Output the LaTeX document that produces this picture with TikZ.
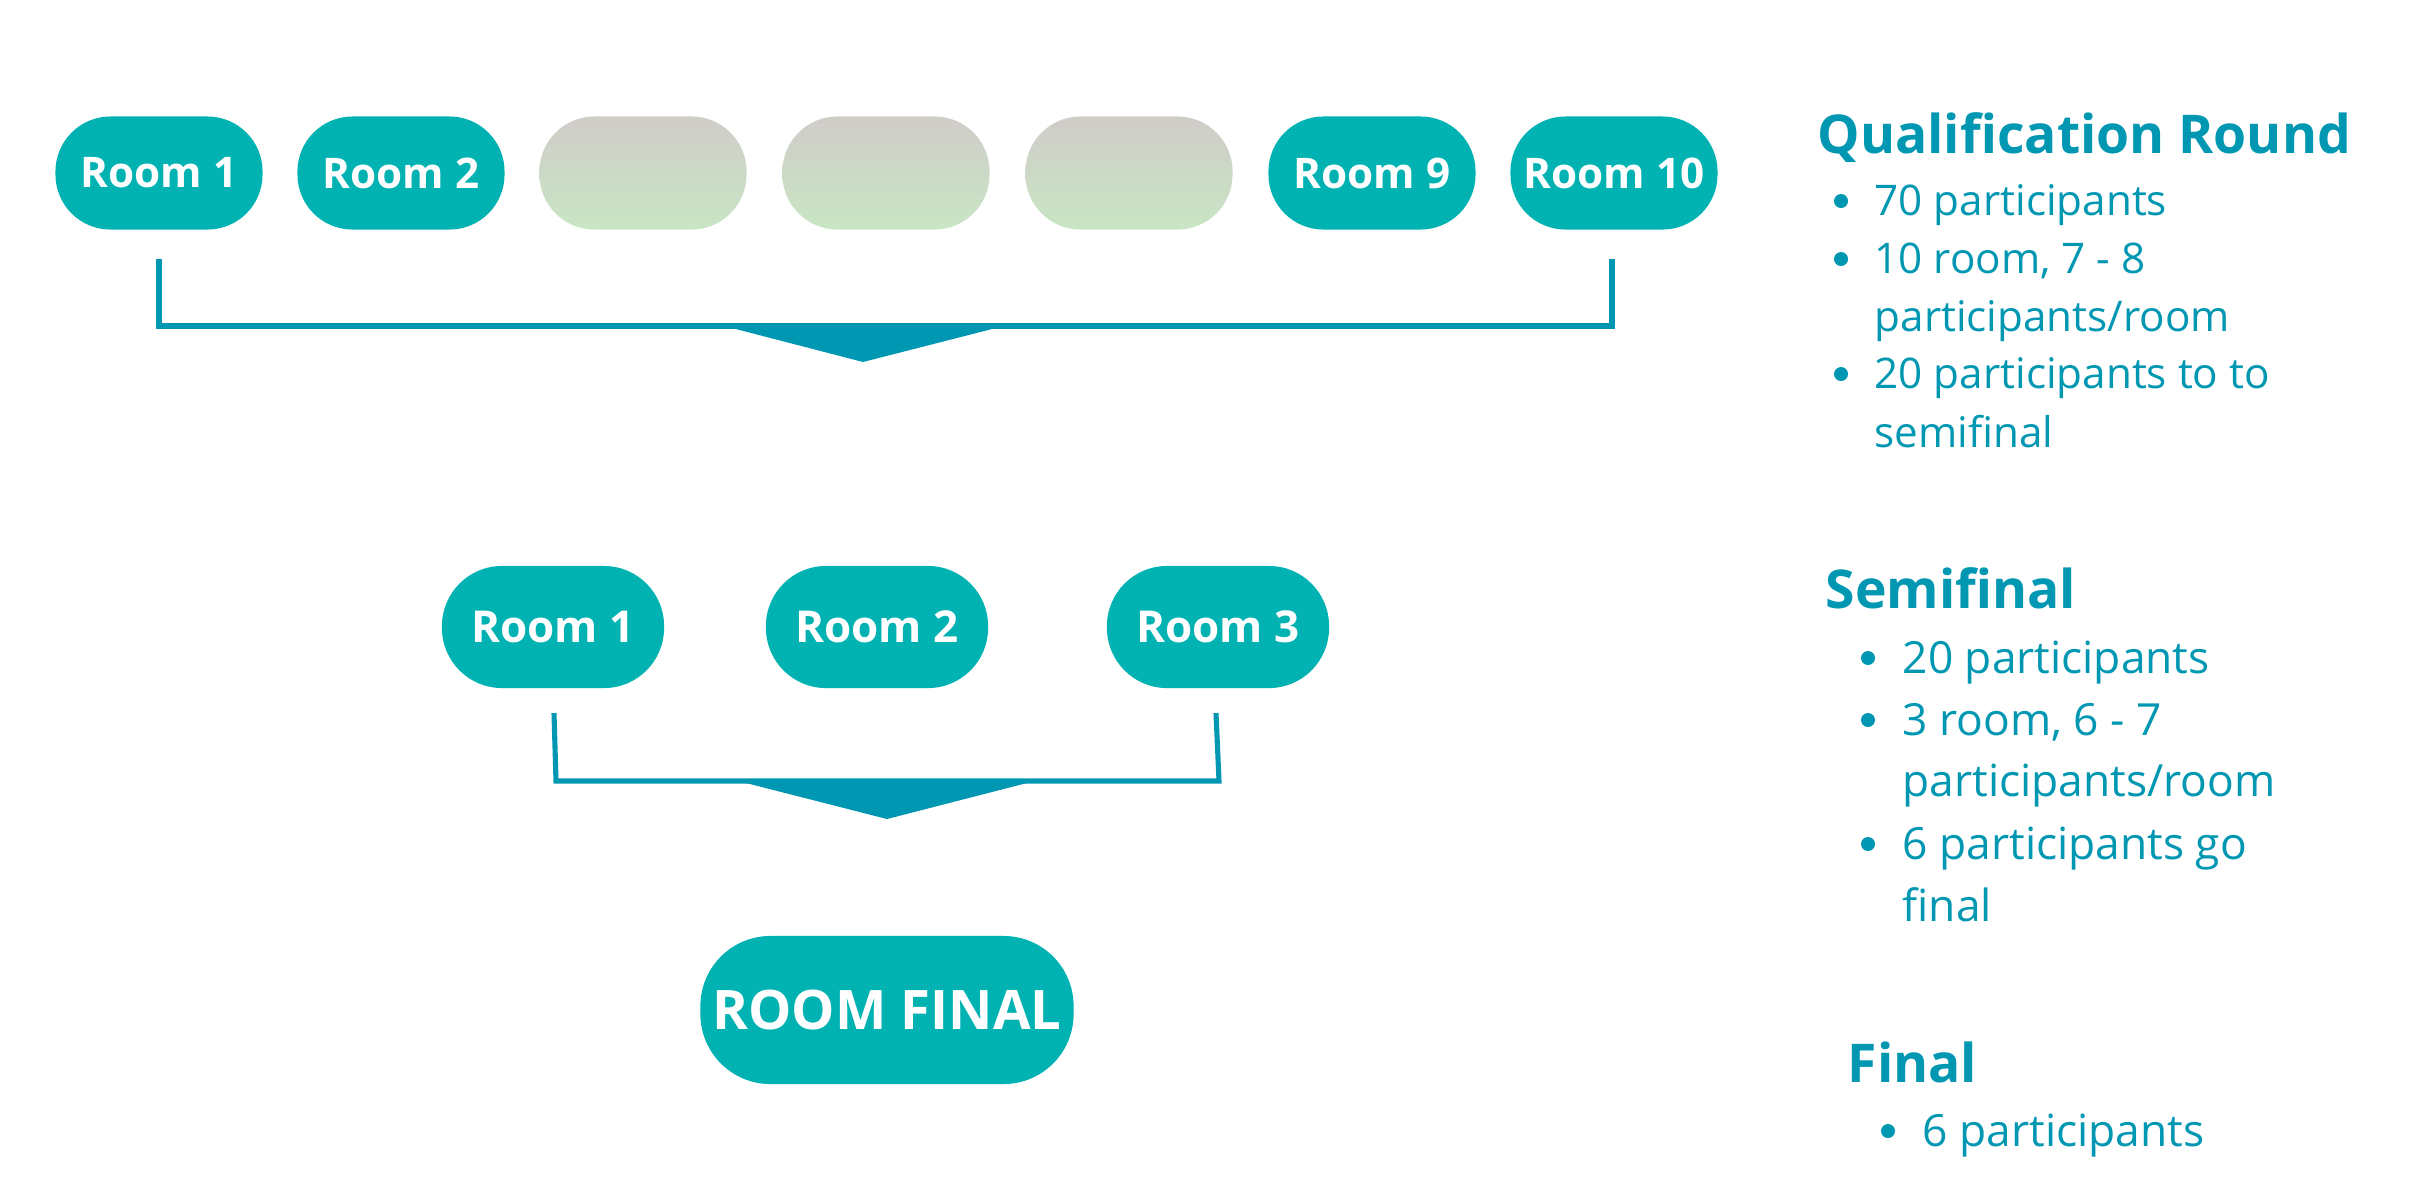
\documentclass[tikz,border=0pt]{standalone}
\usepackage{fontspec}
\setmainfont{Open Sans}
\definecolor{roomteal}{HTML}{00B2B2}
\definecolor{lineblue}{HTML}{0097B2}
\definecolor{greytop}{HTML}{D0CCC8}
\definecolor{greybot}{HTML}{C8E6C4}
\tikzset{
  room/.style={fill=roomteal, text=white, font=\fontsize{12}{14}\selectfont\bfseries,
    rounded corners=0.55cm, minimum width=2.07cm, minimum height=1.13cm, inner sep=0pt},
  semiroom/.style={room, font=\fontsize{12.5}{15}\selectfont\bfseries,
    rounded corners=0.6cm, minimum width=2.22cm, minimum height=1.22cm},
  finalroom/.style={room, font=\fontsize{15.5}{18}\selectfont\bfseries,
    rounded corners=0.7cm, minimum width=3.73cm, minimum height=1.48cm},
  blank/.style={room, fill=none, top color=greytop, bottom color=greybot},
  bracket/.style={draw=lineblue, line width=1.45pt},
  heading/.style={anchor=base west, inner sep=0pt, text=lineblue,
    font=\fontsize{15.2}{18}\selectfont\bfseries},
  item/.style={anchor=base west, inner sep=0pt, text=lineblue,
    font=\fontsize{12}{14}\selectfont},
  semiitem/.style={item, font=\fontsize{12.6}{15}\selectfont},
  dot/.style={circle, fill=lineblue, inner sep=0pt, minimum size=0.14cm}
}
\begin{document}
\begin{tikzpicture}[x=0.01cm,y=-0.01cm]
      \fill[white] (0,0) rectangle (2420,1196);
      \draw
        (159,173) node[room] (r1){Room 1}
        (401,173) node[room] (r2){Room 2}
        (643,173) node[blank] (g1){}
        (886,173) node[blank] (g2){}
        (1129,173) node[blank] (g3){}
        (1372,173) node[room] (r9){Room 9}
        (1614,173) node[room] (r10){Room 10};
      \draw
        (553,627) node[semiroom] (s1){Room 1}
        (877,627) node[semiroom] (s2){Room 2}
        (1218,627) node[semiroom] (s3){Room 3};
      \draw (887,1010) node[finalroom] (fin){ROOM FINAL};
      \coordinate (qa) at (159,259);
      \coordinate (qb) at (1612,259);
      \coordinate (sa) at (554,713);
      \coordinate (sb) at (1216,713);
      \begin{scope}[bracket]
        \draw (qa) -- (159,326) -- (1612,326) -- (qb);
        \draw (sa) -- (556,781) -- (1219,781) -- (sb);
      \end{scope}
      \fill[lineblue] (730,327.5) -- (998,327.5) -- (863,362) -- cycle;
      \fill[lineblue] (744,782.5) -- (1029,782.5) -- (887,819) -- cycle;
      \draw
        (1817,153) node[heading] (qt){Qualification Round}
        (1841,201) node[dot] (qd1){}
        (1874,215) node[item] (q1){70 participants}
        (1841,259) node[dot] (qd2){}
        (1874,273) node[item] (q2){10 room, 7 - 8}
        (1874,331) node[item] (q3){participants/room}
        (1841,374) node[dot] (qd3){}
        (1874,388) node[item] (q4){20 participants to to}
        (1874,447) node[item] (q5){semifinal};
      \draw
        (1825,608) node[heading] (st){Semifinal}
        (1868,658) node[dot] (sd1){}
        (1902,673) node[semiitem] (t1){20 participants}
        (1868,720) node[dot] (sd2){}
        (1902,735) node[semiitem] (t2){3 room, 6 - 7}
        (1902,796) node[semiitem] (t3){participants/room}
        (1868,844) node[dot] (sd3){}
        (1902,859) node[semiitem] (t4){6 participants go}
        (1902,921) node[semiitem] (t5){final};
      \draw
        (1847,1082) node[heading] (ft){Final}
        (1888,1131) node[dot] (fd1){}
        (1922,1146) node[semiitem] (f1){6 participants};
    \end{tikzpicture}
\end{document}
